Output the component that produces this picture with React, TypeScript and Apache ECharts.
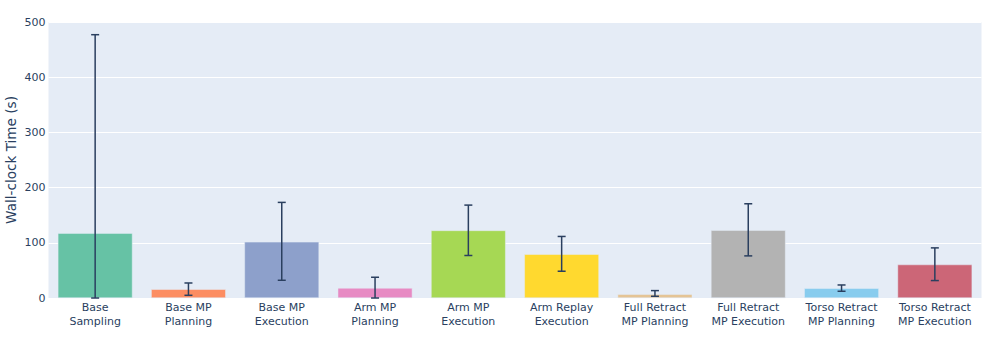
import React, { useEffect, useRef } from "react";
import * as echarts from "echarts";

const categories = [
  "Base\nSampling",
  "Base MP\nPlanning",
  "Base MP\nExecution",
  "Arm MP\nPlanning",
  "Arm MP\nExecution",
  "Arm Replay\nExecution",
  "Full Retract\nMP Planning",
  "Full Retract\nMP Execution",
  "Torso Retract\nMP Planning",
  "Torso Retract\nMP Execution",
];
const means = [117.5, 15.8, 101.7, 18.2, 122.4, 79.3, 6.7, 122.9, 17.6, 60.6];
const errorPlus = [359.5, 11.4, 71.5, 19.4, 45.9, 32.2, 6.7, 47.8, 6.0, 30.2];
const errorMinus = [359.5, 10.9, 69.6, 19.4, 45.4, 30.8, 3.6, 46.6, 5.4, 29.0];
const colors = [
  "#66c2a5",
  "#fc8d62",
  "#8da0cb",
  "#e78ac3",
  "#a6d854",
  "#ffd92f",
  "#e5c494",
  "#b3b3b3",
  "#88ccee",
  "#cc6677",
];
const yTicks = { min: 0, max: 500, interval: 100 };

export default function App() {
  const ref = useRef<HTMLDivElement>(null);
  useEffect(() => {
    if (!ref.current) return;
    const chart = echarts.init(ref.current, null, { renderer: "svg" });
    const font = "'DejaVu Sans', Verdana, sans-serif";
    const errData = means.map((m, i) => [
      i,
      Math.max(yTicks.min, m - errorMinus[i]),
      m + errorPlus[i],
    ]);
    chart.setOption({
      animation: false,
      backgroundColor: "#ffffff",
      grid: {
        left: 48.5,
        right: 14.5,
        top: 22,
        bottom: 58,
        show: true,
        backgroundColor: "#E5ECF6",
        borderWidth: 0,
        containLabel: false,
        outerBoundsMode: "none",
      },
      xAxis: {
        type: "category",
        data: categories,
        axisLine: { show: false },
        axisTick: { show: false },
        axisLabel: {
          color: "#2a3f5f",
          fontSize: 11,
          fontFamily: font,
          lineHeight: 14.5,
          margin: 2,
          interval: 0,
        },
      },
      yAxis: {
        type: "value",
        min: yTicks.min,
        max: yTicks.max,
        interval: yTicks.interval,
        name: "Wall-clock Time (s)",
        nameLocation: "middle",
        nameGap: 31,
        nameMoveOverlap: false,
        nameTextStyle: { color: "#2a3f5f", fontSize: 13.6, fontFamily: font },
        axisLine: { show: false },
        axisTick: { show: false },
        axisLabel: { color: "#2a3f5f", fontSize: 11, fontFamily: font, margin: 3 },
        splitLine: { lineStyle: { color: "#ffffff", width: 1 } },
      },
      series: [
        {
          type: "bar",
          data: means.map((v, i) => ({
            value: v,
            itemStyle: { color: colors[i], borderColor: "#E5ECF6", borderWidth: 0.5 },
          })),
          barCategoryGap: "20%",
          z: 2,
        },
        {
          type: "custom",
          data: errData,
          z: 5,
          renderItem: (params: any, api: any) => {
            const x = api.value(0);
            const lo = api.coord([x, api.value(1)]);
            const hi = api.coord([x, api.value(2)]);
            const hw = 4;
            const style = { stroke: "#2a3f5f", lineWidth: 1.5, fill: "none" };
            return {
              type: "group",
              children: [
                { type: "line", shape: { x1: lo[0], y1: lo[1], x2: hi[0], y2: hi[1] }, style },
                { type: "line", shape: { x1: hi[0] - hw, y1: hi[1], x2: hi[0] + hw, y2: hi[1] }, style },
                { type: "line", shape: { x1: lo[0] - hw, y1: lo[1], x2: lo[0] + hw, y2: lo[1] }, style },
              ],
            };
          },
        },
      ],
    });
    return () => chart.dispose();
  }, []);
  return <div ref={ref} style={{ position: "absolute", left: 0, top: 0, width: 996, height: 356 }} />;
}
